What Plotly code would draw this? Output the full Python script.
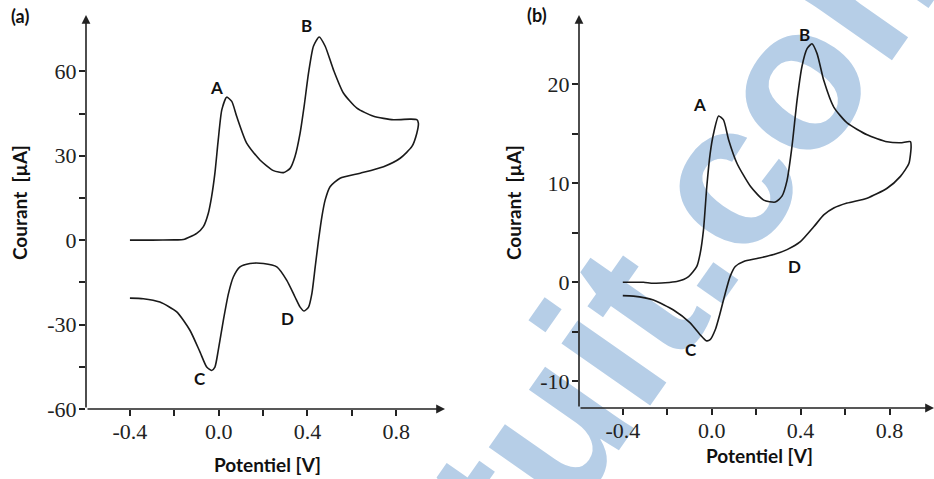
import plotly.graph_objects as go

# ---- Data ----
# Panel (a): full cyclic sweep, forward then reverse
potential_a = [-0.40, -0.30, -0.20, -0.159, -0.099, -0.069, -0.047, -0.032, -0.017, -0.002, 0.014, 0.036,
               0.059, 0.081, 0.126, 0.186, 0.247, 0.292, 0.322, 0.344, 0.367, 0.385, 0.405, 0.427, 0.453,
               0.480, 0.517, 0.562, 0.623, 0.698, 0.788, 0.863, 0.893, 0.900,
               0.893, 0.871, 0.818, 0.743, 0.638, 0.547, 0.502, 0.480, 0.465, 0.450, 0.435, 0.420, 0.405,
               0.385, 0.367, 0.344, 0.307, 0.262, 0.202, 0.141, 0.096, 0.066, 0.044, 0.021, -0.002,
               -0.017, -0.032, -0.054, -0.084, -0.129, -0.189, -0.265, -0.340, -0.400]
current_a = [0.0, 0.0, 0.1, 0.2, 2.4, 4.8, 9.5, 15.4, 23.8, 35.6, 46.3, 50.8,
             49.3, 44.0, 34.5, 28.5, 24.7, 24.0, 25.5, 29.7, 38.0, 47.5, 59.4, 68.9, 72.2,
             68.9, 60.6, 52.3, 46.9, 44.0, 42.8, 43.0, 42.8, 41.6,
             38.0, 33.3, 29.1, 26.1, 23.8, 22.0, 19.0, 14.3, 8.3, 0.0, -9.5, -19.0, -23.8,
             -25.2, -23.8, -20.2, -14.3, -9.5, -8.3, -8.3, -9.5, -13.1, -19.0, -28.5, -39.2,
             -45.1, -46.3, -45.1, -39.8, -32.1, -25.5, -22.0, -20.8, -20.6]

# Panel (b)
potential_b = [-0.40, -0.307, -0.262, -0.157, -0.104, -0.067, -0.052, -0.037, -0.022, -0.007, 0.008, 0.031,
               0.053, 0.076, 0.114, 0.174, 0.234, 0.286, 0.316, 0.339, 0.361, 0.384, 0.406, 0.429, 0.451,
               0.474, 0.504, 0.549, 0.609, 0.699, 0.789, 0.849, 0.894, 0.897,
               0.887, 0.849, 0.789, 0.699, 0.609, 0.549, 0.504, 0.459, 0.399, 0.339, 0.279, 0.204, 0.144,
               0.106, 0.083, 0.061, 0.038, 0.016, -0.007, -0.025, -0.052, -0.097, -0.172, -0.262, -0.352, -0.400]
current_b = [0.0, 0.0, -0.1, 0.07, 0.57, 1.6, 2.9, 5.3, 9.7, 13.0, 15.0, 16.8,
             16.4, 14.4, 12.0, 9.7, 8.3, 8.1, 8.7, 10.3, 13.7, 18.4, 21.8, 23.6, 24.1,
             23.1, 20.4, 17.7, 16.1, 14.9, 14.2, 14.1, 14.2, 13.7,
             12.0, 10.7, 9.5, 8.5, 8.0, 7.5, 6.8, 5.6, 4.1, 3.3, 2.8, 2.4, 2.1,
             1.6, 0.6, -1.1, -3.1, -4.8, -5.8, -5.9, -5.3, -4.1, -2.8, -1.8, -1.4, -1.35]

x_tickvals = [-0.4, -0.2, 0.0, 0.2, 0.4, 0.6, 0.8]
x_ticktext = ["-0.4", "", "0.0", "", "0.4", "", "0.8"]
y_tickvals_a = [-60, -45, -30, -15, 0, 15, 30, 45, 60]
y_ticktext_a = ["-60", "", "-30", "", "0", "", "30", "", "60"]
y_tickvals_b = [-10, -5, 0, 5, 10, 15, 20]
y_ticktext_b = ["-10", "", "0", "", "10", "", "20"]

peak_labels = ["A", "B", "C", "D"]
peak_pos_a = [(-0.008, 54.4), (0.398, 76.2), (-0.086, -49.1), (0.309, -27.8)]
peak_pos_b = [(-0.053, 18.0), (0.416, 25.0), (-0.093, -6.8), (0.373, 1.64)]

watermark_text = "gratuit.com"

W, H = 934, 479
W_a = (86, 445, 15, 409)     # left, right, top, bottom in px
W_b = (579, 934, 15, 408)

def dom(px):
    l, r, t, b = px
    return [l / W, r / W], [1 - b / H, 1 - t / H]

fig = go.Figure()
line = dict(color="#1a1a1a", width=1.6, shape="spline", smoothing=0.6)
fig.add_trace(go.Scatter(x=potential_a, y=current_a, mode="lines", line=line, xaxis="x", yaxis="y",
                         showlegend=False, hoverinfo="skip"))
fig.add_trace(go.Scatter(x=potential_b, y=current_b, mode="lines", line=line, xaxis="x2", yaxis="y2",
                         showlegend=False, hoverinfo="skip"))

xd_a, yd_a = dom(W_a)
xd_b, yd_b = dom(W_b)
xr_a = [-0.598, 1.02]
yr_a = [-60, 80]
xr_b = [-0.597, 1.0]
yr_b = [-12.7, 27.0]


def axis(domain, rng, tv, tt, anchor, standoff):
    return dict(domain=domain, range=rng, tickvals=tv, ticktext=tt, anchor=anchor,
                showgrid=False, zeroline=False, showline=False, automargin=False,
                ticks="outside", ticklen=6, tickwidth=1.5, tickcolor="#222",
                ticklabelstandoff=standoff,
                tickfont=dict(family="Liberation Serif", size=22, color="#222"))


fig.update_layout(
    width=W, height=H, margin=dict(l=0, r=0, t=0, b=0, autoexpand=False),
    paper_bgcolor="white", plot_bgcolor="rgba(0,0,0,0)",
    xaxis=axis(xd_a, xr_a, x_tickvals, x_ticktext, "y", -3),
    yaxis=axis(yd_a, yr_a, y_tickvals_a, y_ticktext_a, "x", -2),
    xaxis2=axis(xd_b, xr_b, x_tickvals, x_ticktext, "y2", -3),
    yaxis2=axis(yd_b, yr_b, y_tickvals_b, y_ticktext_b, "x2", -2),
)

# light-blue watermark of the source page, behind everything
cx, cy = 594 / W, 1 - 328 / H
fig.add_shape(type="rect", xref="paper", yref="paper", x0=cx - 0.001, x1=cx + 0.001, y0=cy - 0.001, y1=cy + 0.001,
              line=dict(width=0), fillcolor="rgba(0,0,0,0)", layer="below",
              label=dict(text="<b>%s</b>" % watermark_text, textangle=-55, textposition="middle center",
                         font=dict(family="Liberation Sans", size=205, color="#b6cee7")))

annots = []
# axis lines with arrows
for xa, ya, xr, yr in [("x", "y", xr_a, yr_a), ("x2", "y2", xr_b, yr_b)]:
    annots.append(dict(x=xr[1], y=yr[0], ax=xr[0], ay=yr[0], xref=xa, yref=ya, axref=xa, ayref=ya,
                       text="", showarrow=True, arrowhead=2, arrowsize=1.1, arrowwidth=1.6, arrowcolor="#222"))
    annots.append(dict(x=xr[0], y=yr[1], ax=xr[0], ay=yr[0], xref=xa, yref=ya, axref=xa, ayref=ya,
                       text="", showarrow=True, arrowhead=2, arrowsize=1.1, arrowwidth=1.6, arrowcolor="#222"))

lab_font = dict(family="Lato", size=17, color="#111")
for lab, (px, py) in zip(peak_labels, peak_pos_a):
    annots.append(dict(x=px, y=py, xref="x", yref="y", text="<b>%s</b>" % lab, showarrow=False, font=lab_font,
                       xanchor="center", yanchor="middle"))
for lab, (px, py) in zip(peak_labels, peak_pos_b):
    annots.append(dict(x=px, y=py, xref="x2", yref="y2", text="<b>%s</b>" % lab, showarrow=False, font=lab_font,
                       xanchor="center", yanchor="middle"))


def ptext(x, y, text, angle=0, size=19):
    return dict(x=x / W, y=1 - y / H, xref="paper", yref="paper", text="<b>%s</b>" % text, showarrow=False,
                font=dict(family="Lato", size=size, color="#111"), textangle=angle,
                xanchor="center", yanchor="middle")


annots += [
    ptext(20, 16, "(a)", size=18),
    ptext(537, 15, "(b)", size=18),
    ptext(267, 464, "Potentiel [V]"),
    ptext(759, 455, "Potentiel [V]"),
    ptext(20, 203, "Courant  [µA]", angle=-90),
    ptext(514, 203, "Courant  [µA]", angle=-90),
]
fig.update_layout(annotations=annots)

fig.write_html("out.html", config={"displayModeBar": False},
               post_script="document.body.style.margin='0';")
